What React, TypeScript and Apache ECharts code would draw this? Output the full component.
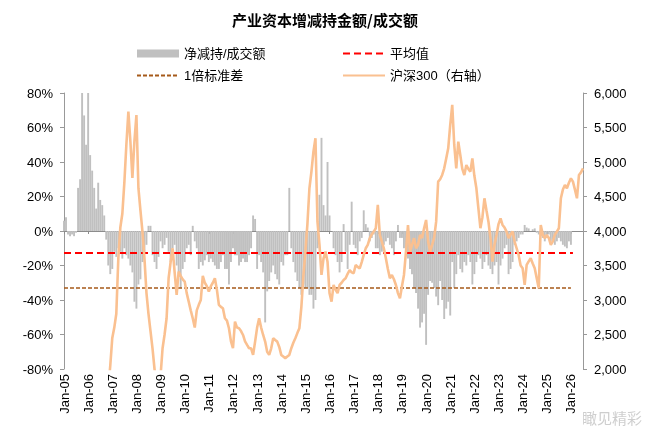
import React, { useEffect, useRef } from "react";
import * as echarts from "echarts";

const chartTitle = "产业资本增减持金额/成交额";
const barName = "净减持/成交额";
const meanName = "平均值";
const stdName = "1倍标准差";
const lineName = "沪深300（右轴）";
const watermark = "瞰见精彩";

const startYear = 2005;
const monthNames = ["Jan", "Feb", "Mar", "Apr", "May", "Jun", "Jul", "Aug", "Sep", "Oct", "Nov", "Dec"];

// 净减持/成交额 (%), monthly, Jan-2005 .. Jan-2026
const netRatio = [
  6, 8, -2, -3, -2, -3, -1, 25, 30, 90, 67, 50,
  90, 44, 35, 25, 13, 28, 18, 15, 9, -5, -20, -25,
  -22, -12, -15, -10, -12, -16, -10, -14, -16, -20, -24, -41,
  -45, -31, -28, -18, -12, -8, 3, 3, -14, -18, -22, -15,
  -6, -10, -8, -4, -12, -18, -10, -8, -20, -25, -33, -22,
  -18, -10, -8, -14, 3, -6, -10, -22, -18, -20, -17, -14,
  -18, -16, -18, -20, -22, -22, -18, -14, -22, -22, -31, -18,
  -10, -14, -14, -20, -18, -16, -18, -18, -14, -10, 9, 7,
  -22, -14, -18, -24, -53, -35, -29, -24, -20, -25, -28, -31,
  -18, -20, -14, -14, 25, -10, -18, -24, -29, -33, -37, -31,
  -33, -33, -37, -37, -45, -40, -10, 21, 54, 15, 9, 40,
  9, 0, -10, -14, -18, -24, -18, 4, -12, -22, -8, 17,
  -8, -10, -14, -6, -4, 12, 4, 2, -6, -4, -2, -10,
  -10, -14, -12, -8, -6, -4, -8, -10, -14, -6, 3.5, -4,
  -4, -10, -14, -16, -22, -25, -33, -36, -45, -56, -53, -48,
  -66, -37, -29, -30, -33, -38, -43, -29, -40, -51, -45, -41,
  -49, -18, -33, -25, -14, -22, -24, -18, -20, -14, -18, -31,
  -25, -18, -14, -16, -22, -18, -14, -20, -22, -25, -20, -18,
  -31, -20, -16, -10, -8, -25, -22, -18, -8, -6, -4, -2,
  -2, 3.5, 2, 1.5, 0, 1, 1.5, -1, -2, -3, -4, -6,
  -4, -2, -6, -5, -8, -6, -4, -6, -8, -9, -10, -6,
  -8,
];

// 沪深300, monthly, Jan-2005 .. Jul-2026 (right axis)
const csi300 = [
  1000, 980, 960, 920, 860, 900, 880, 950, 960, 900, 900, 920,
  1000, 1050, 1080, 1200, 1380, 1400, 1330, 1370, 1400, 1460, 1700, 2050,
  2450, 2600, 2800, 3600, 4050, 4250, 4700, 5250, 5730, 5300, 4770, 5300,
  5680, 4620, 4300, 3990, 3600, 3100, 2800, 2550, 2300, 2000, 1700, 1800,
  1900, 2301, 2500, 2735, 3315, 3550, 3750, 3400, 3073, 3411, 3350, 3300,
  3267, 3100, 2977, 2850, 2735, 2600, 2850, 2930, 3000, 3350, 3250, 3200,
  3122, 3200, 3250, 3315, 3150, 2930, 2900, 2880, 2735, 2700, 2590, 2400,
  2301, 2687, 2600, 2590, 2550, 2493, 2400, 2349, 2301, 2300, 2204, 2397,
  2600, 2735, 2600, 2493, 2397, 2250, 2204, 2300, 2445, 2420, 2397, 2320,
  2204, 2180, 2156, 2180, 2204, 2301, 2380, 2445, 2520, 2590, 2900, 3350,
  3700, 4100, 4619, 4860, 5150, 5344, 4135, 3800, 3363, 3600, 3701, 3556,
  3100, 2977, 3218, 3150, 3098, 3218, 3250, 3290, 3315, 3380, 3435, 3400,
  3387, 3508, 3480, 3459, 3550, 3653, 3750, 3800, 3895, 3950, 3992, 4040,
  4378, 3943, 3847, 3750, 3605, 3450, 3315, 3363, 3300, 3218, 3100, 3025,
  3200, 3363, 3700, 4087, 3701, 3800, 3895, 3750, 3800, 3943, 3900, 4040,
  4160, 3850, 3701, 3798, 3900, 4135, 4715, 4750, 4812, 4908, 5050, 5198,
  5537, 5827, 5247, 4908, 5295, 5102, 4900, 4812, 4957, 4900, 4860, 5053,
  4800, 4619, 4329, 4040, 4200, 4474, 4300, 4135, 3895, 3556, 3800, 3943,
  4100, 4184, 4087, 4050, 3992, 3895, 3950, 3992, 3847, 3750, 3653, 3500,
  3459, 3218, 3508, 3560, 3605, 3530, 3459, 3315, 3170, 4087, 3950, 3895,
  3943, 3900, 3798, 3850, 3943, 3990, 4040, 4474, 4600, 4667, 4619, 4700,
  4763, 4715, 4600, 4474, 4812, 4850, 4908,
];

const meanValue = -12.5;
const stdValue = -32.8;
const meanEndIndex = 253;
const stdEndIndex = 252;

const categories: string[] = [];
for (let i = 0; i < csi300.length; i++) {
  const y = startYear + Math.floor(i / 12);
  const m = i % 12;
  categories.push(monthNames[m] + "-" + String(y % 100).padStart(2, "0"));
}

export default function App() {
  const ref = useRef<HTMLDivElement>(null);
  useEffect(() => {
    if (!ref.current) return;
    const chart = echarts.init(ref.current, undefined, { renderer: "svg" });
    const font = "Liberation Sans, Arial, Noto Sans CJK SC, sans-serif";
    const axisGray = "#999999";
    const meanStyle = { color: "#FF0000", width: 2, type: [7, 4] as number[] };
    const stdStyle = { color: "#A65A1A", width: 1.6, type: [4, 2] as number[] };
    const hiddenSymbol = { opacity: 0, color: "transparent", borderWidth: 0 };
    const legendText = { fontSize: 13, color: "#000", fontFamily: "Liberation Sans, Noto Sans CJK SC, sans-serif" };
    chart.setOption({
      animation: false,
      textStyle: { fontFamily: font },
      title: {
        text: chartTitle,
        left: "center",
        top: 7,
        textStyle: { fontSize: 15, fontWeight: "bold", color: "#000", fontFamily: "Noto Sans CJK SC, sans-serif" },
      },
      legend: [
        {
          orient: "vertical",
          left: 131,
          top: 42,
          itemWidth: 42,
          itemHeight: 8,
          itemGap: 9,
          textStyle: legendText,
          data: [
            { name: barName, icon: "rect" },
            { name: stdName, itemStyle: hiddenSymbol },
          ],
        },
        {
          orient: "vertical",
          left: 337,
          top: 42,
          itemWidth: 42,
          itemHeight: 8,
          itemGap: 9,
          textStyle: legendText,
          data: [
            { name: meanName, itemStyle: hiddenSymbol },
            { name: lineName, itemStyle: hiddenSymbol },
          ],
        },
      ],
      grid: { left: 64, right: 67, top: 93, bottom: 68, containLabel: false },
      xAxis: [
        {
          type: "category",
          data: categories,
          boundaryGap: false,
          position: "bottom",
          axisLine: { show: false, onZero: false },
          axisTick: { show: false },
          splitLine: { show: false },
          axisLabel: {
            rotate: 90,
            margin: 5,
            fontSize: 13,
            color: "#000",
            interval: (i: number) => i % 12 === 0,
          },
        },
        {
          type: "category",
          data: categories,
          boundaryGap: false,
          position: "bottom",
          axisLine: { show: true, onZero: true, onZeroAxisIndex: 0, lineStyle: { color: "#8c8c8c", width: 1.2 } },
          axisTick: { show: true, length: 3, interval: (i: number) => i % 12 === 0, lineStyle: { color: "#8c8c8c" } },
          axisLabel: { show: false },
          splitLine: { show: false },
        },
      ],
      yAxis: [
        {
          type: "value",
          min: -80,
          max: 80,
          interval: 20,
          position: "left",
          axisLine: { show: true, lineStyle: { color: axisGray } },
          axisTick: { show: true, length: 4, lineStyle: { color: axisGray } },
          splitLine: { show: false },
          axisLabel: { formatter: "{value}%", fontSize: 13, color: "#000", margin: 11 },
        },
        {
          type: "value",
          min: 2000,
          max: 6000,
          interval: 500,
          position: "right",
          axisLine: { show: true, lineStyle: { color: axisGray } },
          axisTick: { show: true, length: 4, lineStyle: { color: axisGray } },
          splitLine: { show: false },
          axisLabel: { fontSize: 13, color: "#000", margin: 11 },
        },
      ],
      series: [
        {
          name: barName,
          type: "bar",
          xAxisIndex: 0,
          yAxisIndex: 0,
          data: netRatio,
          barCategoryGap: "5%",
          itemStyle: { color: "#C0C0C0" },
          clip: true,
        },
        {
          name: meanName,
          type: "line",
          xAxisIndex: 0,
          yAxisIndex: 0,
          data: [],
          symbol: "none",
          lineStyle: meanStyle,
          itemStyle: { color: "#FF0000" },
          markLine: {
            silent: true,
            symbol: "none",
            label: { show: false },
            lineStyle: meanStyle,
            data: [[{ coord: [categories[0], meanValue] }, { coord: [categories[meanEndIndex], meanValue] }]],
          },
        },
        {
          name: stdName,
          type: "line",
          xAxisIndex: 0,
          yAxisIndex: 0,
          data: [],
          symbol: "none",
          lineStyle: stdStyle,
          itemStyle: { color: "#A65A1A" },
          markLine: {
            silent: true,
            symbol: "none",
            label: { show: false },
            lineStyle: stdStyle,
            data: [[{ coord: [categories[0], stdValue] }, { coord: [categories[stdEndIndex], stdValue] }]],
          },
        },
        {
          name: lineName,
          type: "line",
          xAxisIndex: 0,
          yAxisIndex: 1,
          data: csi300,
          symbol: "none",
          clip: true,
          lineStyle: { color: "#FAC090", width: 2.6 },
          itemStyle: { color: "#FAC090" },
          z: 5,
        },
      ],
      graphic: [
        {
          type: "text",
          right: 8,
          bottom: 12,
          style: { text: watermark, fontSize: 15, fill: "rgba(190,190,190,0.75)", fontFamily: "Noto Sans CJK SC, sans-serif" },
          z: 100,
        },
      ],
    });
    return () => chart.dispose();
  }, []);
  return <div ref={ref} style={{ position: "fixed", left: 0, top: 0, width: 650, height: 437 }} />;
}
